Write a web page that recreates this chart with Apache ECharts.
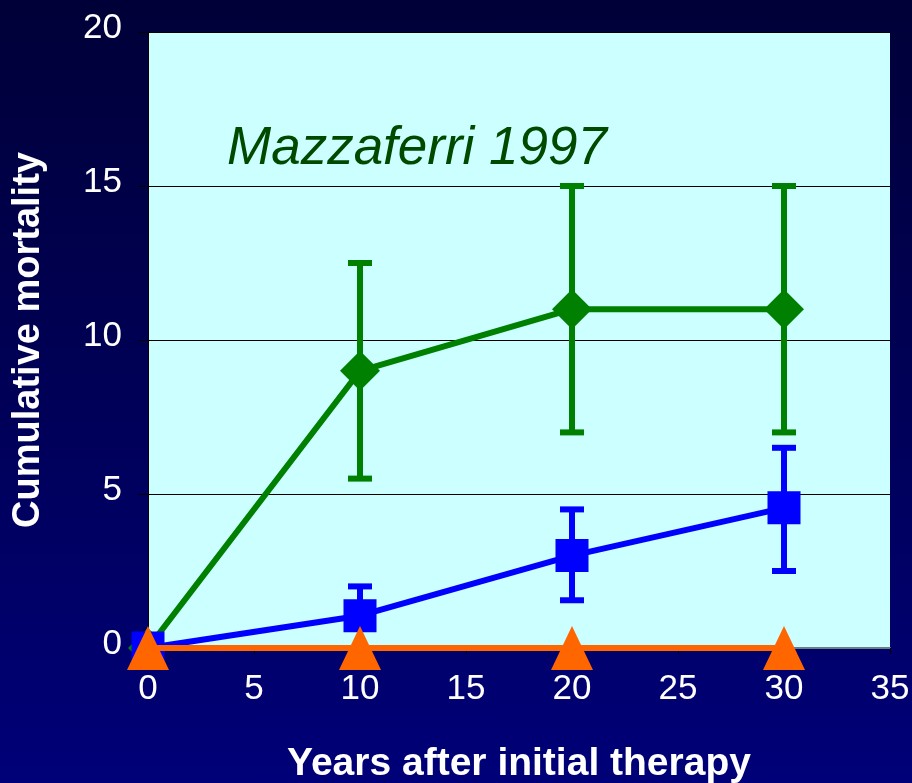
<!DOCTYPE html>
<html>
<head>
<meta charset="utf-8">
<script src="https://cdn.jsdelivr.net/npm/echarts@6/dist/echarts.min.js"></script>
<style>
html, body { margin: 0; padding: 0; }
body { width: 912px; height: 783px; background: linear-gradient(to bottom, #000038 0%, #00005a 55%, #000078 100%); }
#chart { width: 912px; height: 783px; }
</style>
</head>
<body>
<div id="chart"></div>
<script>
var years = [0, 10, 20, 30];
var xTicks = [0, 5, 10, 15, 20, 25, 30, 35];
var yTicks = [0, 5, 10, 15, 20];

var greenVals = [0, 9, 11, 11];
var greenLow = [0, 5.5, 7, 7];
var greenHigh = [0, 12.5, 15, 15];

var blueVals = [0, 1.05, 3, 4.55];
var blueLow = [0, 0, 1.55, 2.5];
var blueHigh = [0, 2, 4.5, 6.5];

var orangeVals = [0, 0, 0, 0];

var chart = echarts.init(document.getElementById("chart"));

function pairs(vals) {
	var out = [];
	for(var i = 0; i < years.length; i++) {
		out.push([years[i], vals[i]]);
	}
	return out;
}

function errData(low, high) {
	var out = [];
	for(var i = 0; i < years.length; i++) {
		if(high[i] > low[i]) out.push([years[i], low[i], high[i]]);
	}
	return out;
}

function errBar(color) {
	return function(params, api) {
		var lo = api.coord([api.value(0), api.value(1)]);
		var hi = api.coord([api.value(0), api.value(2)]);
		var w = 12;
		var st = { stroke: color, lineWidth: 6 };
		return {
			type: 'group',
			children: [
				{ type: 'line', shape: { x1: hi[0], y1: hi[1], x2: lo[0], y2: lo[1] }, style: st },
				{ type: 'line', shape: { x1: hi[0] - w, y1: hi[1], x2: hi[0] + w, y2: hi[1] }, style: st },
				{ type: 'line', shape: { x1: lo[0] - w, y1: lo[1], x2: lo[0] + w, y2: lo[1] }, style: st }
			]
		};
	};
}

var option = {
	backgroundColor: 'transparent',
	animation: false,
	title: {
		text: 'Mazzaferri 1997',
		left: 222,
		top: 118,
		textStyle: { color: '#004a00', fontSize: 53, fontStyle: 'italic', fontWeight: 'normal', fontFamily: 'Liberation Sans' }
	},
	grid: {
		left: 148, right: 22, top: 32, bottom: 135,
		outerBoundsMode: 'none', containLabel: false,
		show: true, backgroundColor: '#ccffff', borderWidth: 0
	},
	xAxis: {
		type: 'value', min: 0, max: 35, interval: 5,
		name: 'Years after initial therapy', nameLocation: 'middle', nameGap: 97,
		nameTextStyle: { color: '#ffffff', fontSize: 39, fontWeight: 'bold', fontFamily: 'Liberation Sans' },
		axisLine: { show: true, lineStyle: { color: '#6a8080', width: 2 } },
		axisTick: { show: true, length: 6, lineStyle: { color: '#000000' } },
		axisLabel: { color: '#ffffff', fontSize: 35, margin: 24, fontFamily: 'Liberation Sans' },
		splitLine: { show: false }
	},
	yAxis: {
		type: 'value', min: 0, max: 20, interval: 5,
		name: 'Cumulative mortality', nameLocation: 'middle', nameGap: 100,
		nameTextStyle: { color: '#ffffff', fontSize: 38, fontWeight: 'bold', fontFamily: 'Liberation Sans' },
		axisLine: { show: true, lineStyle: { color: '#000000', width: 1 } },
		axisTick: { show: true, length: 10, lineStyle: { color: '#000000' } },
		axisLabel: { color: '#ffffff', fontSize: 35, margin: 26, verticalAlign: 'bottom', lineHeight: 8, fontFamily: 'Liberation Sans' },
		splitLine: { show: true, lineStyle: { color: '#000000', width: 1 } }
	},
	series: [
		{ type: 'custom', renderItem: errBar('#008000'), data: errData(greenLow, greenHigh), z: 2 },
		{ type: 'line', data: pairs(greenVals), symbol: 'diamond', symbolSize: 40,
			lineStyle: { color: '#008000', width: 6 }, itemStyle: { color: '#008000' }, z: 3 },
		{ type: 'custom', renderItem: errBar('#0000ff'), data: errData(blueLow, blueHigh), z: 4 },
		{ type: 'line', data: pairs(blueVals), symbol: 'rect', symbolSize: 33,
			lineStyle: { color: '#0000ff', width: 6 }, itemStyle: { color: '#0000ff' }, z: 5 },
		{ type: 'line', data: pairs(orangeVals), symbol: 'triangle', symbolSize: [42, 44],
			lineStyle: { color: '#ff6600', width: 6 }, itemStyle: { color: '#ff6600' }, z: 6 }
	]
};

chart.setOption(option);
</script>
</body>
</html>
